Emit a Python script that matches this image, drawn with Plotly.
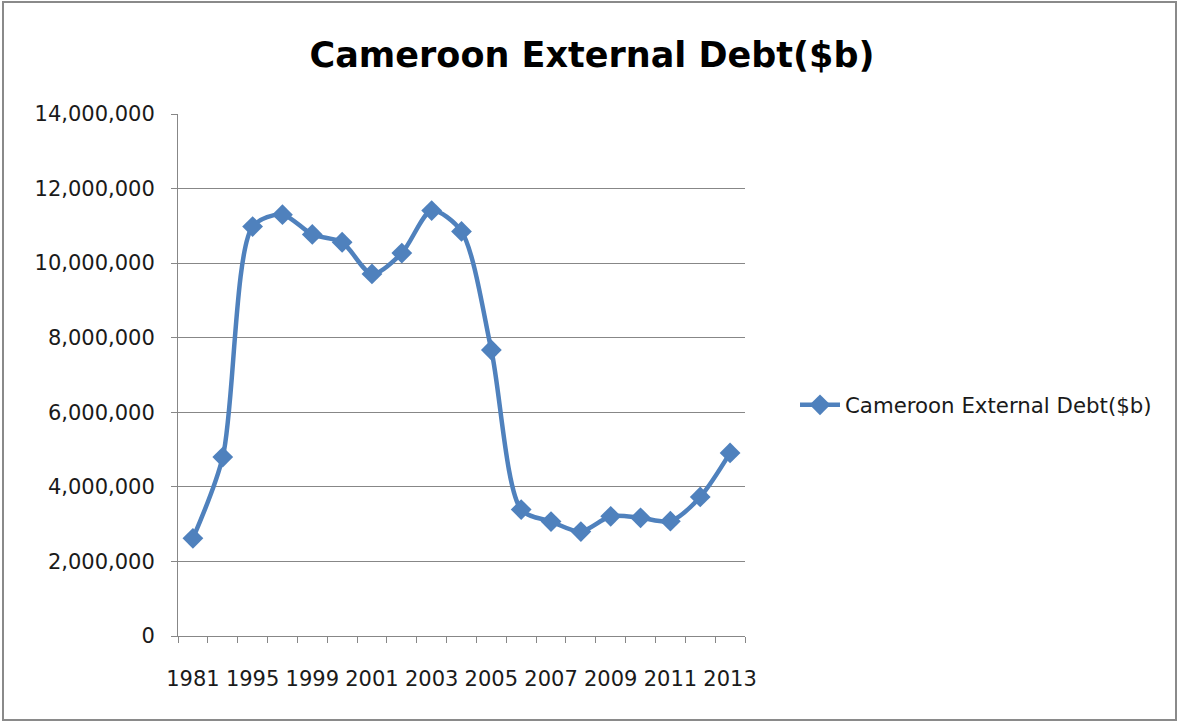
import plotly.graph_objects as go

years = ["1981", "1990", "1995", "1997", "1999", "2000", "2001", "2002", "2003", "2004",
         "2005", "2006", "2007", "2008", "2009", "2010", "2011", "2012", "2013"]
debt = [2620000, 4800000, 10980000, 11300000, 10770000, 10560000, 9710000, 10270000,
        11410000, 10850000, 7670000, 3390000, 3070000, 2800000, 3210000, 3170000,
        3080000, 3730000, 4910000]
series_name = "Cameroon External Debt($b)"
tick_labels = [y if i % 2 == 0 else "" for i, y in enumerate(years)]
y_ticks = [0, 2000000, 4000000, 6000000, 8000000, 10000000, 12000000, 14000000]

W, H = 1179, 722
L, R, T, B = 178, 745, 114, 636
pw, ph = R - L, B - T

FONT = "DejaVu Sans"
BLUE = "#4F81BD"
GRID = "#878787"

fig = go.Figure()
fig.add_trace(go.Scatter(
    x=years, y=debt, name=series_name, mode="lines+markers",
    line=dict(color=BLUE, width=4.5, shape="spline", smoothing=0.8),
    marker=dict(symbol="diamond", size=16, color=BLUE),
    showlegend=True,
))

fig.update_layout(
    width=W, height=H,
    margin=dict(l=L, r=W - R, t=T, b=H - B, pad=0),
    paper_bgcolor="white", plot_bgcolor="white",
    title=dict(text="<b>" + series_name + "</b>", x=592 / W, xref="container", xanchor="center",
               y=1 - 55 / H, yref="container", yanchor="middle",
               font=dict(family=FONT, size=35, color="black")),
    font=dict(family=FONT, size=20, color="#1a1a1a"),
    xaxis=dict(type="category", range=[-0.5, len(years) - 0.5], tickson="boundaries",
               tickvals=years, ticktext=tick_labels,
               tickangle=0, ticks="outside", ticklen=6, tickcolor=GRID, showgrid=False,
               showline=True, linecolor=GRID, linewidth=1, ticklabelstandoff=24,
               tickfont=dict(family=FONT, size=21, color="#1a1a1a")),
    yaxis=dict(range=[0, 14000000], tickvals=y_ticks, tickformat=",d",
               ticks="outside", ticklen=6, tickcolor=GRID, showgrid=True, gridcolor=GRID,
               gridwidth=1, showline=True, linecolor=GRID, linewidth=1, zeroline=False,
               ticklabelstandoff=12, tickfont=dict(family=FONT, size=21, color="#1a1a1a")),
    legend=dict(x=(795 - L) / pw, y=(B - 405) / ph, xanchor="left", yanchor="middle",
                itemwidth=40,
                font=dict(family=FONT, size=21.3, color="#1a1a1a"), bgcolor="rgba(0,0,0,0)"),
    shapes=[dict(type="rect", xref="paper", yref="paper",
                 x0=(3 - L) / pw, x1=(1176 - L) / pw, y0=(B - 720) / ph, y1=(B - 2) / ph,
                 line=dict(color="#8a8a8a", width=2), layer="below")],
)

fig.write_html("out.html")
